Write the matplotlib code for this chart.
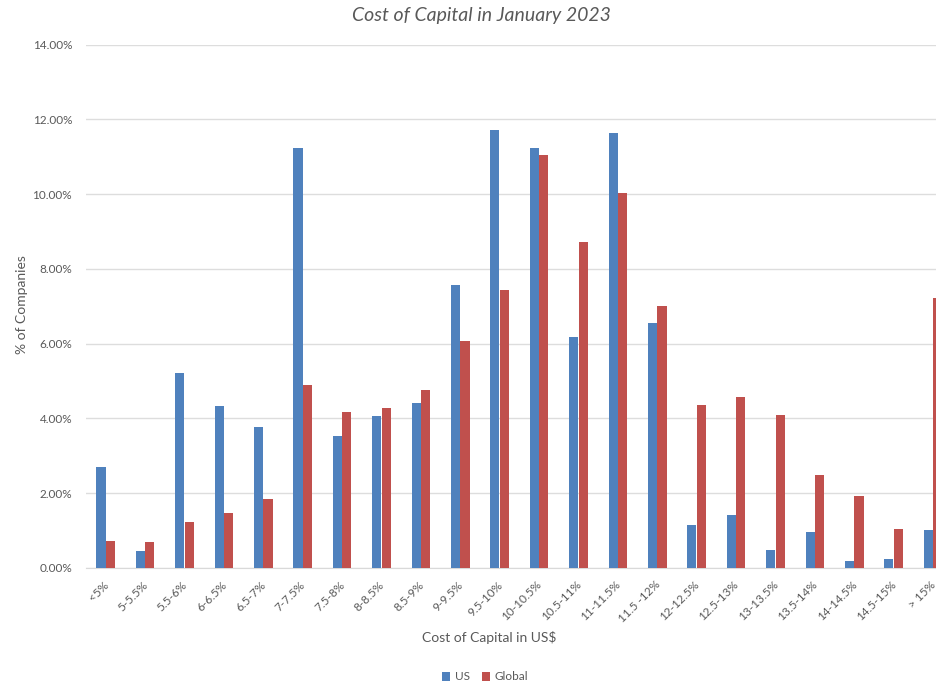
import numpy as np
import matplotlib
matplotlib.use("Agg")
import matplotlib.pyplot as plt
import matplotlib.transforms as mtransforms
from matplotlib.ticker import FuncFormatter

categories = ["<5%", "5-5.5%", "5.5-6%", "6-6.5%", "6.5-7%", "7-7.5%", "7.5-8%",
              "8-8.5%", "8.5-9%", "9-9.5%", "9.5-10%", "10-10.5%", "10.5-11%",
              "11-11.5%", "11.5 -12%", "12-12.5%", "12.5-13%", "13-13.5%",
              "13.5-14%", "14-14.5%", "14.5-15%", "> 15%"]
us = [2.69, 0.45, 5.23, 4.33, 3.76, 11.23, 3.54, 4.08, 4.42, 7.57, 11.71, 11.25,
      6.17, 11.65, 6.55, 1.14, 1.43, 0.48, 0.95, 0.20, 0.25, 1.01]
glob = [0.72, 0.70, 1.22, 1.48, 1.85, 4.89, 4.18, 4.27, 4.75, 6.06, 7.45, 11.06,
        8.71, 10.04, 7.00, 4.36, 4.57, 4.10, 2.50, 1.93, 1.03, 7.23]

plt.rcParams['font.family'] = ['Lato', 'DejaVu Sans']
txt = '#595959'

fig = plt.figure(figsize=(9.37, 6.84), dpi=100)
# plot area runs past the right edge, like the cropped screenshot
ax = fig.add_axes([0.0918, 0.1696, 0.925, 0.765])

x = np.arange(len(categories))
w = 0.23
ax.bar(x - 0.12, np.array(us) / 100, w, color='#4F81BD', label='US', zorder=3)
ax.bar(x + 0.12, np.array(glob) / 100, w, color='#C0504D', label='Global', zorder=3)

ax.set_xlim(-0.5, len(categories) - 0.5)
ax.set_ylim(0, 0.14)
ax.set_yticks(np.arange(0, 0.1401, 0.02))
ax.yaxis.set_major_formatter(FuncFormatter(lambda v, p: f"{v*100:.2f}%"))
ax.grid(axis='y', color='#DDDDDD', linewidth=1, zorder=0)
for s in ['top', 'right', 'left']:
    ax.spines[s].set_visible(False)
ax.spines['bottom'].set_color('#D9D9D9')
ax.tick_params(axis='both', length=0, colors=txt, labelsize=8.5)
ax.tick_params(axis='y', pad=10)
ax.set_xticks(x)
ax.set_xticklabels(categories, rotation=45, ha='right', va='top',
                   rotation_mode='anchor')
ax.tick_params(axis='x', pad=8)
shift = mtransforms.ScaledTranslation(-3 / 100, 0, fig.dpi_scale_trans)
for lab in ax.get_xticklabels():
    lab.set_transform(lab.get_transform() + shift)

fig.text(481 / 937, 1 - 16 / 684, "Cost of Capital in January 2023",
         ha='center', va='center', fontsize=14, style='italic', color=txt)
fig.text(489 / 937, 1 - 638 / 684, "Cost of Capital in US$",
         ha='center', va='center', fontsize=10, color=txt)
fig.text(22 / 937, 1 - 305 / 684, "% of Companies", rotation=90,
         ha='center', va='center', fontsize=10, color=txt)

leg = fig.legend(loc='center', bbox_to_anchor=(485 / 937, 1 - 677 / 684), ncol=2,
                 frameon=False, fontsize=8.5, handlelength=0.7, handleheight=0.7,
                 handletextpad=0.4, columnspacing=1.0)
for t in leg.get_texts():
    t.set_color(txt)

fig.savefig("out.png", dpi=100)
